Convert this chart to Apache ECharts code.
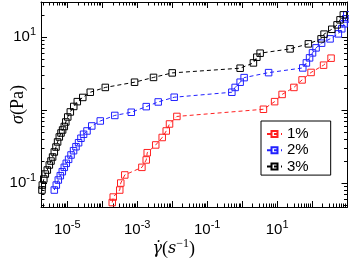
<!DOCTYPE html>
<html><head><meta charset="utf-8">
<script src="https://cdn.jsdelivr.net/npm/echarts@6/dist/echarts.min.js"></script>
<style>html,body{margin:0;padding:0;background:#fff}#c{width:349px;height:259px}</style>
</head><body><div id="c"></div>
<script>
// ---- data (shear rate in 1/s, stress in Pa) ----
const seriesNames = ['1%', '2%', '3%'];
const seriesColors = ['#ff2020', '#2020ff', '#000000'];

const rate1 = [1.93e-4, 2.06e-4, 3.16e-4, 3.38e-4, 4.40e-4, 1.36e-3, 1.81e-3, 1.93e-3, 3.38e-3, 5.18e-3, 6.75e-3, 8.38e-3, 1.36e-2, 4.06, 8.48, 13.9, 30.2, 51.8, 93.6, 213, 349];
const stress1 = [0.0541, 0.0643, 0.0802, 0.100, 0.129, 0.164, 0.207, 0.260, 0.332, 0.420, 0.516, 0.643, 0.815, 1.022, 1.299, 1.631, 2.033, 2.576, 3.26, 4.10, 5.11];

const rate2 = [4.25e-6, 4.85e-6, 5.53e-6, 6.31e-6, 7.20e-6, 8.21e-6, 9.36e-6, 1.09e-5, 1.28e-5, 1.51e-5, 1.77e-5, 2.10e-5, 2.46e-5, 2.92e-5, 3.66e-5, 5.01e-5, 8.77e-5, 2.28e-4, 6.75e-4, 1.81e-3, 3.98e-3, 1.14e-2, 0.508, 0.631, 0.877, 1.14, 5.71, 54.2, 68.7, 84.8, 103, 130, 187, 327, 564, 706, 821, 918, 980];
const stress2 = [0.0802, 0.0939, 0.110, 0.126, 0.143, 0.164, 0.186, 0.211, 0.242, 0.277, 0.314, 0.356, 0.410, 0.465, 0.516, 0.604, 0.707, 0.841, 0.930, 1.110, 1.287, 1.493, 1.748, 2.033, 2.396, 2.77, 3.24, 3.76, 4.40, 5.16, 6.04, 7.07, 8.20, 9.39, 11.0, 12.9, 15.1, 17.6, 20.0];

const rate3 = [1.89e-6, 1.93e-6, 2.13e-6, 2.35e-6, 2.68e-6, 3.06e-6, 3.42e-6, 3.80e-6, 4.25e-6, 4.75e-6, 5.28e-6, 5.91e-6, 6.61e-6, 7.34e-6, 8.21e-6, 9.06e-6, 1.03e-5, 1.22e-5, 1.53e-5, 1.93e-5, 2.77e-5, 4.54e-5, 1.22e-4, 8.38e-4, 2.92e-3, 1.0e-2, 0.877, 2.10, 2.63, 3.27, 23.5, 78.4, 181, 220, 366, 518, 631, 784];
const stress3 = [0.0802, 0.0939, 0.1135, 0.1328, 0.1507, 0.1765, 0.200, 0.227, 0.266, 0.311, 0.365, 0.427, 0.484, 0.532, 0.594, 0.685, 0.802, 0.939, 1.117, 1.299, 1.483, 1.748, 2.033, 2.396, 2.788, 3.213, 3.726, 4.40, 5.27, 5.98, 6.85, 8.02, 9.39, 10.9, 12.7, 14.6, 17.1, 20.0];

// axis ranges and labelled decades (exponents)
const xRange = [1.77e-6, 1030];
const yRange = [0.047, 30];
const xLabelExp = [-5, -3, -1, 1];
const yLabelExp = [-1, 1];

// ---- build ----
const L = Math.log10;
const xl = [L(xRange[0]), L(xRange[1])];
const yl = [L(yRange[0]), L(yRange[1])];
function decades(r) { const a = []; for (let n = Math.ceil(r[0]); n <= Math.floor(r[1]); n++) a.push(n); return a; }
function minors(r) { const a = []; for (let n = Math.floor(r[0]); n <= Math.ceil(r[1]); n++) for (let k = 2; k <= 9; k++) { const v = n + L(k); if (v > r[0] && v < r[1]) a.push(v); } return a; }

const SANS = 'Liberation Sans';
const SERIF = 'Liberation Serif';
const labelRich = {
  b: { fontSize: 15, fontFamily: SANS, color: '#000' },
  s: { fontSize: 11, fontFamily: SANS, color: '#000', padding: [0, 0, 10, 0] }
};
const fmt = v => '{b|10}{s|' + Math.round(v) + '}';

function deco(dim, pos, vals, len, labels, showLine) {
  return {
    type: 'value', gridIndex: 0, position: pos,
    min: dim === 'x' ? xl[0] : yl[0], max: dim === 'x' ? xl[1] : yl[1],
    axisLine: { show: !!showLine, onZero: false, lineStyle: { color: '#000', width: 1 } },
    splitLine: { show: false },
    axisTick: { show: true, inside: true, length: len, customValues: vals, lineStyle: { color: '#000', width: 1 } },
    axisLabel: labels ? { show: true, customValues: labels, formatter: fmt, rich: labelRich, margin: dim === 'x' ? 12 : 5, color: '#000' } : { show: false },
    silent: true
  };
}

const xAxes = [
  { type: 'log', gridIndex: 0, position: 'bottom', min: xRange[0], max: xRange[1],
    axisLine: { show: true, onZero: false, lineStyle: { color: '#000', width: 1 } },
    axisTick: { show: false }, axisLabel: { show: false }, splitLine: { show: false }, minorTick: { show: false },
    name: '{i|γ\u0307}{r|(}{i|s}{sup|\u22121}{r|)}', nameLocation: 'middle', nameGap: 31,
    nameTextStyle: { color: '#000', padding: [0, 41, 0, 0], rich: {
      i: { fontFamily: 'DejaVu Serif', fontStyle: 'italic', fontSize: 16, color: '#000' },
      r: { fontFamily: SERIF, fontSize: 18, color: '#000' },
      sup: { fontFamily: SERIF, fontSize: 12, color: '#000', padding: [0, 0, 10, 0] } } } },
  deco('x', 'bottom', decades(xl), 6, xLabelExp, false),
  deco('x', 'bottom', minors(xl), 3.5, null, false),
  deco('x', 'top', decades(xl), 6, null, true),
  deco('x', 'top', minors(xl), 3.5, null, false)
];
const yAxes = [
  { type: 'log', gridIndex: 0, position: 'left', min: yRange[0], max: yRange[1],
    axisLine: { show: true, onZero: false, lineStyle: { color: '#000', width: 1 } },
    axisTick: { show: false }, axisLabel: { show: false }, splitLine: { show: false }, minorTick: { show: false },
    name: '{i|σ}{r|(Pa)}', nameLocation: 'middle', nameGap: 14, nameRotate: 90,
    nameTextStyle: { color: '#000', rich: {
      i: { fontFamily: SERIF, fontStyle: 'italic', fontSize: 18, color: '#000' },
      r: { fontFamily: SERIF, fontSize: 18, color: '#000' } } } },
  deco('y', 'left', decades(yl), 6, yLabelExp, false),
  deco('y', 'left', minors(yl), 3.5, null, false),
  deco('y', 'right', decades(yl), 6, null, true),
  deco('y', 'right', minors(yl), 3.5, null, false)
];

const rates = [rate1, rate2, rate3];
const stresses = [stress1, stress2, stress3];
const series = seriesNames.map((name, i) => ({
  name, type: 'line', xAxisIndex: 0, yAxisIndex: 0,
  data: rates[i].map((r, j) => [r, stresses[i][j]]),
  symbol: 'rect', symbolSize: 6.5, showAllSymbol: true,
  itemStyle: { color: 'rgba(255,255,255,0)', borderColor: seriesColors[i], borderWidth: 1 },
  lineStyle: { color: seriesColors[i], width: 1, type: [4, 3] },
  emphasis: { disabled: true }, silent: true
}));

const chart = echarts.init(document.getElementById('c'), null, { renderer: 'canvas' });
chart.setOption({
  animation: false,
  backgroundColor: '#fff',
  grid: { left: 41, top: 2, right: 1.5, bottom: 52, containLabel: false, outerBoundsMode: 'none' },
  xAxis: xAxes,
  yAxis: yAxes,
  legend: {
    data: seriesNames, orient: 'vertical', left: 261, top: 121,
    padding: [5.5, 22, 1, 5], itemGap: 1.3, itemWidth: 15, itemHeight: 7.5,
    borderColor: '#000', borderWidth: 1, backgroundColor: '#fff',
    textStyle: { fontSize: 15, lineHeight: 14, fontFamily: SANS, color: '#000' },
    selectedMode: false
  },
  series
});
</script></body></html>
